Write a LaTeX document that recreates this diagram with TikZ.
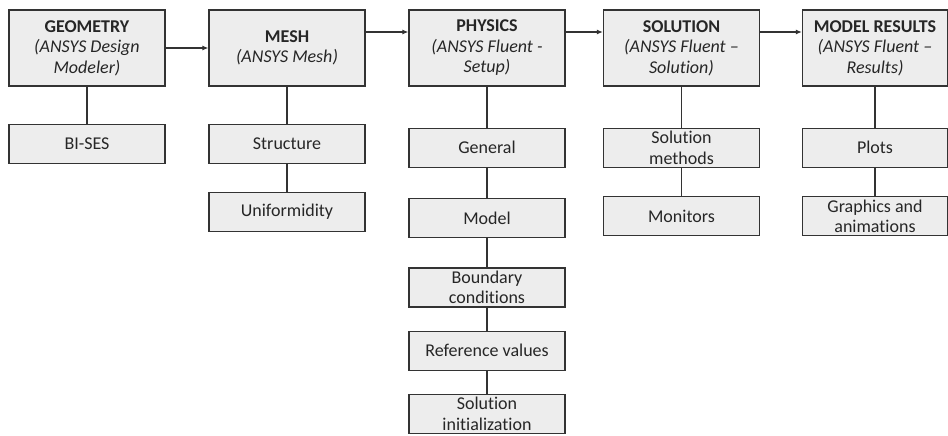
\documentclass[tikz,border=0pt]{standalone}
\usepackage{fontspec}
\setmainfont{Carlito}[Ligatures=NoCommon]
\usepackage{tikz}
\usetikzlibrary{arrows.meta,positioning}
\definecolor{StageGrey}{HTML}{EDEDED}
\definecolor{StageLine}{HTML}{333333}
\definecolor{StageText}{HTML}{262626}

\begin{document}
\begin{tikzpicture}[
            x=1pt, y=-1pt,
            font=\fontsize{18}{20.5}\selectfont,
            stage/.style={
                    draw=StageLine,
                    fill=StageGrey,
                    text=StageText,
                    line width=1.3pt,
                    align=center,
                    inner sep=1pt,
                    minimum width=156pt,
                    minimum height=76pt
                },
            task/.style={stage, minimum height=39pt},
            narrow/.style={minimum width=145pt},
            arrow/.style={-{Latex[length=6pt,width=5pt]}, line width=1.1pt, draw=StageLine},
            link/.style={line width=1.3pt, draw=StageLine},
        ]
        \useasboundingbox (0,0) rectangle (948,436);

        % main stages
        \node[stage] (geo) at (87,48) {\textbf{GEOMETRY}\\\textit{(ANSYS Design}\\\textit{Modeler)}};
        \node[stage] (mesh) at (287,48) {\textbf{MESH}\\\textit{(ANSYS Mesh)}};
        \node[stage] (phys) at (487,48) {\textbf{PHYSICS}\\\textit{(ANSYS Fluent -}\\\textit{Setup)}};
        \node[stage] (sol) at (681.5,48) {\textbf{SOLUTION}\\\textit{(ANSYS Fluent –}\\\textit{Solution)}};
        \node[stage, narrow] (res) at (875,48) {\textbf{MODEL RESULTS}\\\textit{(ANSYS Fluent –}\\\textit{Results)}};

        % sub tasks
        \node[task, below=37pt of geo] (bises) {BI-SES};

        \node[task, below=37pt of mesh] (struct) {Structure};
        \node[task, below=28pt of struct] (unif) {Uniformidity};

        \node[task, below=41pt of phys] (general) {General};
        \node[task, below=30pt of general] (model) {Model};
        \node[task, below=29pt of model] (bc) {Boundary\\conditions};
        \node[task, below=23pt of bc] (refval) {Reference values};
        \node[task, below=23pt of refval] (init) {Solution\\initialization};

        \node[task, below=41pt of sol] (methods) {Solution\\methods};
        \node[task, below=28pt of methods] (monitors) {Monitors};

        \node[task, narrow, below=41pt of res] (plots) {Plots};
        \node[task, narrow, below=28pt of plots] (graphics) {Graphics and\\animations};

        \draw[arrow] (geo) -- (mesh);
        \draw[arrow] ([yshift=16pt]mesh.east) -- ([yshift=16pt]phys.west);
        \draw[arrow] ([yshift=16pt]phys.east) -- ([yshift=16pt]sol.west);
        \draw[arrow] ([yshift=16pt]sol.east) -- ([yshift=16pt]res.west);

        \foreach \a/\b in {geo/bises, mesh/struct, struct/unif, phys/general, general/model,
                model/bc, bc/refval, refval/init, sol/methods, methods/monitors, res/plots, plots/graphics}
            \draw[link] (\a) -- (\b);

    \end{tikzpicture}
\end{document}
